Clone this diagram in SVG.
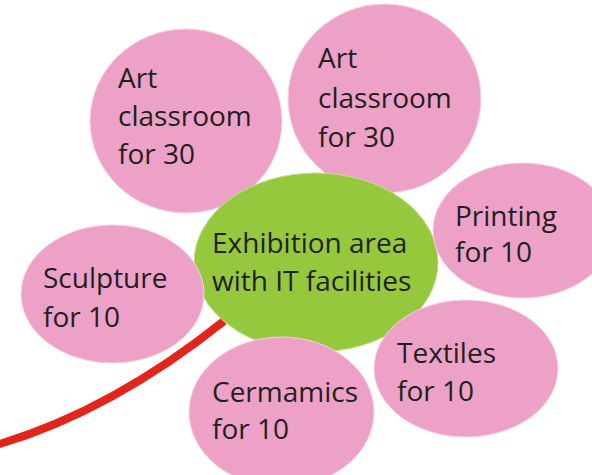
<svg xmlns="http://www.w3.org/2000/svg" width="592" height="475" viewBox="0 0 592 475">
<style>
.pink{fill:#eda1c7;stroke:#f6d3e4;stroke-width:1}
.green{fill:#95c83d;stroke:#c4e08e;stroke-width:1}
text{font-family:"Open Sans","Noto Sans","Liberation Sans",sans-serif;font-size:28px;fill:#231f20}
</style>
<rect width="592" height="475" fill="#ffffff"/>
<g id="connectors">
<path d="M -4,445 Q 110,412 224,321" fill="none" stroke="#e1251b" stroke-width="8"/>
</g>
<g id="art1">
<ellipse class="pink" cx="186" cy="121" rx="96" ry="92"/>
<text x="118" y="88">Art</text>
<text x="118" y="126">classroom</text>
<text x="118" y="164">for 30</text>
</g>
<g id="art2">
<ellipse class="pink" cx="384.5" cy="98.5" rx="96.5" ry="94.5"/>
<text x="318" y="68">Art</text>
<text x="318" y="108">classroom</text>
<text x="318" y="147">for 30</text>
</g>
<g id="exhibition">
<ellipse class="green" cx="316" cy="262.5" rx="122" ry="89.5"/>
<text x="212" y="253">Exhibition area</text>
<text x="212" y="291">with IT facilities</text>
</g>
<g id="printing">
<ellipse class="pink" cx="523" cy="230.5" rx="90" ry="67.5"/>
<text x="455" y="226">Printing</text>
<text x="455" y="262">for 10</text>
</g>
<g id="sculpture">
<ellipse class="pink" cx="112.5" cy="294" rx="91.5" ry="69"/>
<text x="43" y="288">Sculpture</text>
<text x="43" y="327">for 10</text>
</g>
<g id="textiles">
<ellipse class="pink" cx="466" cy="368.5" rx="92" ry="68.5"/>
<text x="397" y="363">Textiles</text>
<text x="397" y="401">for 10</text>
</g>
<g id="ceramics">
<ellipse class="pink" cx="281.5" cy="412" rx="92.5" ry="75"/>
<text x="212" y="402">Cermamics</text>
<text x="212" y="439">for 10</text>
</g>
</svg>
